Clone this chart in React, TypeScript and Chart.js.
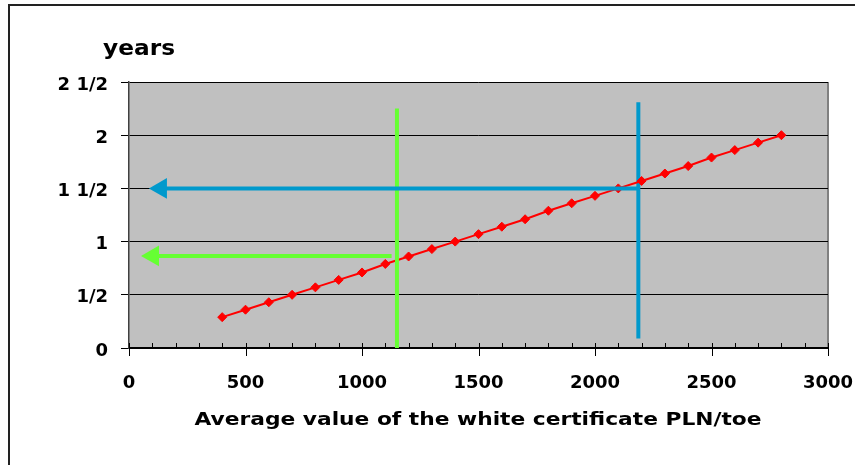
import React, { useEffect, useRef } from "react";
import { Chart, registerables } from "chart.js";

Chart.register(...registerables);

// Red series: average certificate value (PLN/toe) vs payback years
const certValues = [400, 500, 600, 700, 800, 900, 1000, 1100, 1200, 1300, 1400, 1500, 1600, 1700, 1800, 1900, 2000, 2100, 2200, 2300, 2400, 2500, 2600, 2700, 2800];
const yearValues = [0.29, 0.36, 0.43, 0.5, 0.57, 0.64, 0.71, 0.79, 0.86, 0.93, 1.0, 1.07, 1.14, 1.21, 1.29, 1.36, 1.43, 1.5, 1.57, 1.64, 1.71, 1.79, 1.86, 1.93, 2.0];

// Reference lines
const greenVerticalX = [1150, 1150];
const greenVerticalY = [0, 2.25];
const blueVerticalX = [2186, 2186];
const blueVerticalY = [0.09, 2.31];
const greenArrowX = [103, 1127];
const greenArrowY = [0.865, 0.865];
const blueArrowX = [137, 2186];
const blueArrowY = [1.5, 1.5];

// Tick labels
const yTickValues = [0, 0.5, 1, 1.5, 2, 2.5];
const yTickLabels = ["0", "1/2", "1", "1 1/2", "2", "2 1/2"];
const xTickLabels = ["0", "500", "1000", "1500", "2000", "2500", "3000"];
const xMinorStep = 100;

const yAxisTitle = "years";
const xAxisTitle = "Average value of the white certificate PLN/toe";

const pts = (xs: number[], ys: number[]) => xs.map((x, i) => ({ x, y: ys[i] }));

const FONT = "'DejaVu Sans', sans-serif";

export default function App() {
  const ref = useRef<HTMLCanvasElement | null>(null);
  useEffect(() => {
    if (!ref.current) return;
    const decor = {
      id: "decor",
      beforeDraw(chart: any) {
        const { ctx, chartArea: a } = chart;
        ctx.save();
        ctx.fillStyle = "#C0C0C0";
        ctx.fillRect(a.left, a.top, a.right - a.left, a.bottom - a.top);
        ctx.strokeStyle = "#808080";
        ctx.lineWidth = 2;
        ctx.beginPath();
        ctx.moveTo(a.right, a.top);
        ctx.lineTo(a.right, a.bottom);
        ctx.stroke();
        ctx.restore();
      },
      afterDraw(chart: any) {
        const { ctx, chartArea: a, scales } = chart;
        const xs = scales.x;
        ctx.save();
        ctx.strokeStyle = "#000";
        ctx.lineWidth = 1;
        for (let v = 0; v <= 3000; v += xMinorStep) {
          const px = Math.round(xs.getPixelForValue(v)) + 0.5;
          ctx.beginPath();
          ctx.moveTo(px, a.bottom - 5);
          ctx.lineTo(px, v % 500 === 0 ? a.bottom + 8 : a.bottom);
          ctx.stroke();
        }
        ctx.fillStyle = "#000";
        const drawFit = (text: string, cx: number, cy: number, size: number, width: number) => {
          ctx.font = `bold ${size}px ${FONT}`;
          const w = ctx.measureText(text).width;
          ctx.save();
          ctx.translate(cx, cy);
          ctx.scale(width / w, 1);
          ctx.textAlign = "center";
          ctx.textBaseline = "alphabetic";
          ctx.fillText(text, 0, 0);
          ctx.restore();
        };
        drawFit(yAxisTitle, 139, 55, 22, 72);
        drawFit(xAxisTitle, 478, 425, 18, 567);
        ctx.restore();
      },
    };

    const chart = new Chart(ref.current, {
      type: "line",
      data: {
        datasets: [
          {
            data: pts(blueArrowX, blueArrowY),
            borderColor: "#0099CC",
            backgroundColor: "#0099CC",
            borderWidth: 4,
            pointStyle: "triangle",
            pointRotation: -90,
            pointRadius: [12, 0],
            pointBorderWidth: 0,
            pointBackgroundColor: "#0099CC",
          },
          {
            data: pts(greenVerticalX, greenVerticalY),
            borderColor: "#66FF33",
            borderWidth: 4,
            pointRadius: 0,
          },
          {
            data: pts(certValues, yearValues),
            borderColor: "#FF0000",
            backgroundColor: "#FF0000",
            borderWidth: 2,
            pointStyle: "rectRot",
            pointRadius: 4.5,
            pointBorderWidth: 1,
            pointBackgroundColor: "#FF0000",
            pointBorderColor: "#FF0000",
          },
          {
            data: pts(blueVerticalX, blueVerticalY),
            borderColor: "#0099CC",
            borderWidth: 4,
            pointRadius: 0,
          },
          {
            data: pts(greenArrowX, greenArrowY),
            borderColor: "#66FF33",
            backgroundColor: "#66FF33",
            borderWidth: 4,
            pointStyle: "triangle",
            pointRotation: -90,
            pointRadius: [12, 0],
            pointBorderWidth: 0,
            pointBackgroundColor: "#66FF33",
          },
        ],
      },
      options: {
        animation: false,
        responsive: false,
        clip: false as any,
        layout: { padding: { left: 0, top: 82, right: 27, bottom: 0 } },
        plugins: { legend: { display: false }, tooltip: { enabled: false }, title: { display: false } },
        scales: {
          x: {
            type: "linear",
            min: 0,
            max: 3000,
            afterFit: (s: any) => { s.height = 117; s.paddingLeft = 0; s.paddingRight = 0; },
            afterBuildTicks: (s: any) => {
              s.ticks = xTickLabels.map((l) => ({ value: Number(l) }));
            },
            ticks: {
              color: "#000",
              font: { family: FONT, size: 18, weight: "bold" },
              padding: 25,
              maxRotation: 0,
              callback: (v: any) => xTickLabels[xTickLabels.indexOf(String(v))] ?? "",
            },
            grid: { display: false, drawTicks: false },
            border: { display: true, color: "#000", width: 1.5 },
          },
          y: {
            type: "linear",
            min: 0,
            max: 2.5,
            afterFit: (s: any) => { s.width = 129; s.paddingTop = 0; s.paddingBottom = 0; },
            afterBuildTicks: (s: any) => {
              s.ticks = yTickValues.map((v) => ({ value: v }));
            },
            ticks: {
              color: "#000",
              font: { family: FONT, size: 18, weight: "bold" },
              padding: 13,
              labelOffset: 3,
              callback: (v: any) => yTickLabels[yTickValues.indexOf(Number(v))] ?? "",
            },
            grid: { color: "#000", lineWidth: 1, tickLength: 8, drawTicks: true },
            border: { display: true, color: "#404040", width: 1.5 },
          },
        },
      },
      plugins: [decor],
    } as any);
    return () => chart.destroy();
  }, []);

  return (
    <div style={{ position: "fixed", left: 0, top: 0, width: 855, height: 465, background: "#fff" }}>
      <div
        style={{
          position: "absolute",
          left: 8,
          top: 4,
          right: 0,
          bottom: 0,
          borderTop: "2px solid #222",
          borderLeft: "2px solid #222",
        }}
      />
      <canvas ref={ref} width={855} height={465} style={{ position: "absolute", left: 0, top: 0 }} />
    </div>
  );
}
